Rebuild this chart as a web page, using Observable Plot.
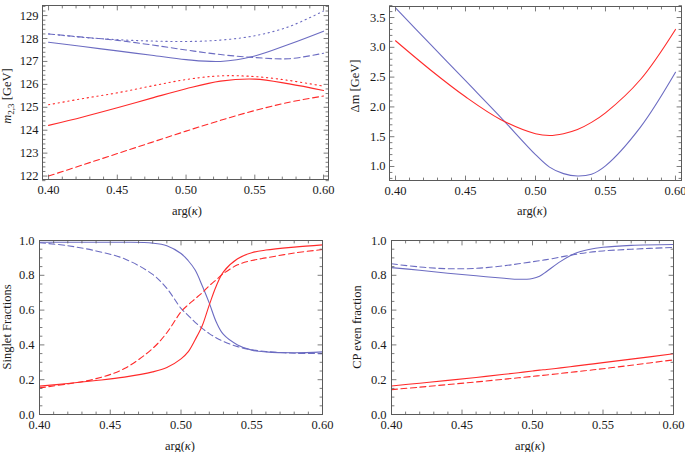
<!DOCTYPE html>
<html><head><meta charset="utf-8">
<script src="https://cdn.jsdelivr.net/npm/d3@7"></script>
<script src="https://cdn.jsdelivr.net/npm/@observablehq/plot@0.6"></script>
<style>
body{margin:0;background:#fff;}
#fig{position:relative;width:685px;height:452px;overflow:hidden;}
#fig > div{position:absolute;}
</style></head><body><div id="fig"></div>
<script>
// ---------- Panel 1: masses m_{2,3} ----------
const x1 = [0.40, 0.425, 0.45, 0.475, 0.50, 0.525, 0.55, 0.575, 0.60];
const m3Solid  = [127.84,127.65,127.46,127.27,127.08,127.00,127.24,127.75,128.32];
const m3Dashed = [128.20,128.06,127.92,127.72,127.50,127.30,127.17,127.12,127.36];
const m3Dotted = [128.20,128.05,127.95,127.89,127.87,127.93,128.12,128.52,129.20];
const m2Solid  = [124.21,124.58,124.98,125.40,125.81,126.14,126.23,126.02,125.73];
const m2Dashed = [122.00,122.49,122.98,123.47,123.96,124.43,124.86,125.22,125.49];
const m2Dotted = [125.11,125.38,125.63,125.93,126.21,126.37,126.34,126.17,125.92];
const y1Ticks = [122,123,124,125,126,127,128,129];

// ---------- Panel 2: Delta m ----------
const x2 = [0.40,0.425,0.45,0.475,0.50,0.51,0.52,0.53,0.54,0.55,0.575,0.60];
const dmBlue = [3.66,3.05,2.44,1.83,1.20,0.99,0.88,0.84,0.87,1.01,1.66,2.58];
const dmRed  = [3.11,2.62,2.17,1.79,1.55,1.52,1.55,1.62,1.74,1.90,2.46,3.30];
const y2Ticks = [1.0,1.5,2.0,2.5,3.0,3.5];

// ---------- Panel 3: singlet fractions ----------
const x3 = [0.40,0.42,0.44,0.46,0.48,0.49,0.50,0.505,0.51,0.515,0.52,0.525,0.53,0.54,0.55,0.56,0.58,0.60];
const sBlue   = [0.990,0.990,0.990,0.990,0.985,0.970,0.925,0.885,0.830,0.740,0.640,0.530,0.460,0.400,0.370,0.360,0.355,0.360];
const sBlueD  = [0.987,0.970,0.940,0.895,0.805,0.725,0.610,0.570,0.530,0.495,0.465,0.440,0.420,0.390,0.372,0.362,0.352,0.350];
const sRed    = [0.163,0.178,0.195,0.215,0.245,0.270,0.320,0.360,0.430,0.510,0.630,0.740,0.820,0.895,0.930,0.945,0.962,0.975];
const sRedD   = [0.153,0.176,0.206,0.264,0.380,0.470,0.590,0.630,0.665,0.700,0.740,0.775,0.810,0.860,0.885,0.900,0.928,0.948];

// ---------- Panel 4: CP even fraction ----------
const x4 = [0.40,0.42,0.44,0.46,0.48,0.49,0.50,0.505,0.51,0.52,0.53,0.54,0.55,0.57,0.60];
const cpBlue  = [0.844,0.829,0.812,0.797,0.783,0.777,0.782,0.795,0.822,0.880,0.925,0.948,0.961,0.972,0.977];
const cpBlueD = [0.866,0.848,0.838,0.840,0.855,0.866,0.878,0.884,0.890,0.905,0.920,0.932,0.940,0.950,0.960];
const cpRed   = [0.164,0.180,0.196,0.213,0.231,0.240,0.250,0.255,0.259,0.268,0.278,0.288,0.298,0.318,0.349];
const cpRedD  = [0.143,0.157,0.172,0.187,0.203,0.211,0.219,0.223,0.227,0.236,0.245,0.254,0.263,0.283,0.314];

const fracTicks = [0.0,0.2,0.4,0.6,0.8,1.0];
const xTicks = [0.40,0.45,0.50,0.55,0.60];
const xMinor = d3.range(0.41, 0.6, 0.01).filter(v => Math.abs(v*100 % 5) > 0.01 && Math.abs(v*100 % 5 - 5) > 0.01);

const FONT = '"Liberation Serif","Times New Roman",serif';
const frameColor = "#5a5a5a";
const BLUE = "#6c6cc2", RED = "#ff2a2a";
const DASH = "6,3.5", DOT = "1.3,3.6";

function makePanel(cfg) {
  const {left, top, width, height, mL, mR, mT, mB, xDomain, yDomain, yMajor, yMinor, yFmt, xPad, yPad, lines, xTitle, yTitle} = cfg;
  const shape = {draw(ctx, l) { ctx.moveTo(0, 0); ctx.lineTo(0, -l); }};
  const tk = (data, ch, frameAnchor, rotate, length) =>
    Plot.vector(data, {[ch]: d => d, frameAnchor, rotate, length, anchor: "start", shape, stroke: frameColor, strokeWidth: 0.8});
  const marks = [];
  for (const L of lines) {
    marks.push(Plot.line(L.x.map((x, i) => ({x, y: L.y[i]})), {
      x: "x", y: "y", stroke: L.color, strokeWidth: 1.1, strokeDasharray: L.dash, curve: "catmull-rom"
    }));
  }
  marks.push(Plot.frame({stroke: frameColor, strokeWidth: 1}));
  for (const [data, len] of [[xTicks, 4.5], [xMinor, 2.5]]) {
    marks.push(tk(data, "x", "bottom", 0, len), tk(data, "x", "top", 180, len));
  }
  for (const [data, len] of [[yMajor, 4.5], [yMinor, 2.5]]) {
    marks.push(tk(data, "y", "left", 90, len), tk(data, "y", "right", -90, len));
  }
  marks.push(Plot.axisX(xTicks, {tickSize: 0, tickPadding: xPad, tickFormat: d3.format(".2f"), label: null}));
  marks.push(Plot.axisY(yMajor, {tickSize: 0, tickPadding: yPad, tickFormat: d3.format(yFmt), label: null}));
  const svg = Plot.plot({
    width, height, marginLeft: mL, marginRight: mR, marginTop: mT, marginBottom: mB,
    x: {domain: xDomain}, y: {domain: yDomain},
    style: {fontFamily: FONT, fontSize: "12.5px", color: "#1a1a1a", background: "white", overflow: "visible"},
    marks
  });
  const s = d3.select(svg);
  // x title: arg(κ)
  const xt = s.append("text").attr("x", xTitle[0]).attr("y", xTitle[1]).attr("text-anchor", "middle")
    .attr("font-family", FONT).attr("font-size", 12.5).attr("fill", "#1a1a1a");
  xt.append("tspan").text("arg(");
  xt.append("tspan").attr("font-style", "italic").text("κ");
  xt.append("tspan").text(")");
  // y title
  const yt = s.append("text").attr("transform", `translate(${yTitle.x},${yTitle.y}) rotate(-90)`)
    .attr("text-anchor", "middle").attr("font-family", FONT).attr("font-size", 12.5).attr("fill", "#1a1a1a");
  for (const p of yTitle.parts) {
    const t = yt.append("tspan").text(p.t);
    if (p.italic) t.attr("font-style", "italic");
    if (p.size) t.attr("font-size", p.size);
    if (p.dy) t.attr("dy", p.dy);
  }
  const div = document.createElement("div");
  div.style.left = left + "px"; div.style.top = top + "px";
  div.appendChild(svg);
  document.getElementById("fig").appendChild(div);
}

makePanel({
  left: 0, top: 0, width: 342, height: 226, mL: 42, mR: 14, mT: 5, mB: 47,
  xDomain: [0.3956, 0.6036], yDomain: [121.85, 129.44],
  yMajor: y1Ticks, yMinor: d3.range(121.8, 129.5, 0.2).filter(v => Math.abs(v - Math.round(v)) > 0.05),
  yFmt: "d", xPad: 6, yPad: 4,
  lines: [
    {x: x1, y: m3Solid, color: BLUE}, {x: x1, y: m3Dashed, color: BLUE, dash: DASH}, {x: x1, y: m3Dotted, color: BLUE, dash: DOT},
    {x: x1, y: m2Solid, color: RED}, {x: x1, y: m2Dashed, color: RED, dash: DASH}, {x: x1, y: m2Dotted, color: RED, dash: DOT}
  ],
  xTitle: [187, 215],
  yTitle: {x: 11, y: 96, parts: [{t: "m", italic: true}, {t: "2,3", size: 9, dy: 3}, {t: " [GeV]", dy: -3}]}
});

makePanel({
  left: 342, top: 0, width: 343, height: 226, mL: 47, mR: 4, mT: 6, mB: 46,
  xDomain: [0.3957, 0.6043], yDomain: [0.765, 3.685],
  yMajor: y2Ticks, yMinor: d3.range(0.8, 3.7, 0.1).filter(v => Math.abs(v*2 - Math.round(v*2)) > 0.05),
  yFmt: ".1f", xPad: 6, yPad: 4,
  lines: [{x: x2, y: dmBlue, color: BLUE}, {x: x2, y: dmRed, color: RED}],
  xTitle: [190, 215],
  yTitle: {x: 17, y: 86, parts: [{t: "Δm [GeV]"}]}
});

makePanel({
  left: 0, top: 226, width: 342, height: 226, mL: 39, mR: 20, mT: 14, mB: 38,
  xDomain: [0.4, 0.6], yDomain: [0, 1],
  yMajor: fracTicks, yMinor: d3.range(0.05, 1, 0.05).filter(v => Math.abs(v*5 - Math.round(v*5)) > 0.05),
  yFmt: ".1f", xPad: 6, yPad: 5,
  lines: [
    {x: x3, y: sBlue, color: BLUE}, {x: x3, y: sBlueD, color: BLUE, dash: DASH},
    {x: x3, y: sRed, color: RED}, {x: x3, y: sRedD, color: RED, dash: DASH}
  ],
  xTitle: [180, 224],
  yTitle: {x: 11, y: 101, parts: [{t: "Singlet Fractions"}]}
});

makePanel({
  left: 342, top: 226, width: 343, height: 226, mL: 49, mR: 12, mT: 14, mB: 38,
  xDomain: [0.4, 0.6], yDomain: [0, 1],
  yMajor: fracTicks, yMinor: d3.range(0.05, 1, 0.05).filter(v => Math.abs(v*5 - Math.round(v*5)) > 0.05),
  yFmt: ".1f", xPad: 6, yPad: 5,
  lines: [
    {x: x4, y: cpBlue, color: BLUE}, {x: x4, y: cpBlueD, color: BLUE, dash: DASH},
    {x: x4, y: cpRed, color: RED}, {x: x4, y: cpRedD, color: RED, dash: DASH}
  ],
  xTitle: [188, 224],
  yTitle: {x: 19, y: 101, parts: [{t: "CP even fraction"}]}
});
</script>
</body></html>
